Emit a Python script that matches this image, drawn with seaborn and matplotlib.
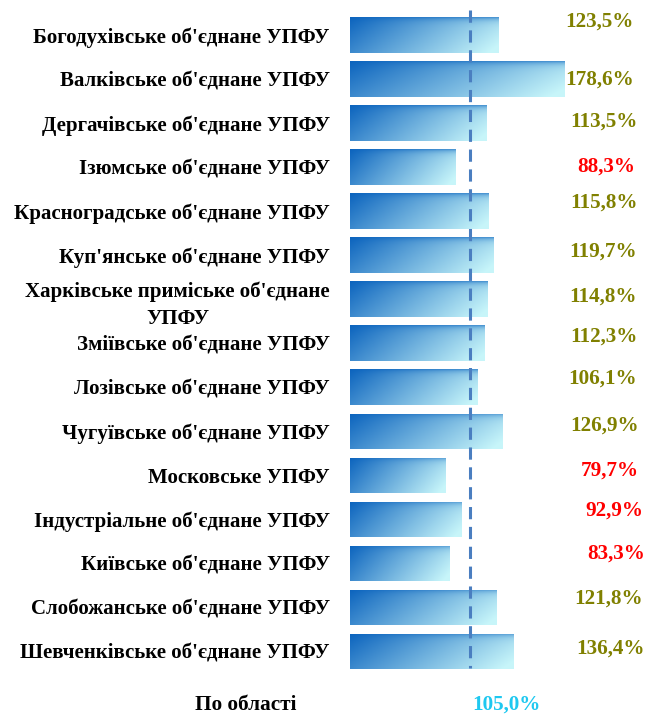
import numpy as np
import pandas as pd
import matplotlib
matplotlib.use("Agg")
import matplotlib.pyplot as plt
import seaborn as sns

categories = [
    "Богодухівське об'єднане УПФУ",
    "Валківське об'єднане УПФУ",
    "Дергачівське об'єднане УПФУ",
    "Ізюмське об'єднане УПФУ",
    "Красноградське об'єднане УПФУ",
    "Куп'янське об'єднане УПФУ",
    "Харківське приміське об'єднане\nУПФУ",
    "Зміївське об'єднане УПФУ",
    "Лозівське об'єднане УПФУ",
    "Чугуївське об'єднане УПФУ",
    "Московське УПФУ",
    "Індустріальне об'єднане УПФУ",
    "Київське об'єднане УПФУ",
    "Слобожанське об'єднане УПФУ",
    "Шевченківське об'єднане УПФУ",
]
values = [123.5, 178.6, 113.5, 88.3, 115.8, 119.7, 114.8, 112.3, 106.1, 126.9,
          79.7, 92.9, 83.3, 121.8, 136.4]
total_label = "По області"
total_value = 105.0
reference_level = 100.0

# label placement (layout only): vertical offset in px, right edge in px
label_dy_px = [-13, 1, -1, 0, -8, -3, -2, -6, -9, -6, -5, -9, -10, -9, -3]
label_right_px = [634, 634, 638, 635, 638, 637, 637, 638, 637, 639, 639, 643, 645, 643, 645]

sns.set_theme(style="white")
plt.rcParams['font.family'] = ['Liberation Serif', 'DejaVu Serif']

df = pd.DataFrame({"cat": categories, "val": values})

PX_PER_UNIT = 1.2
ROW_PX = 44.0

fig = plt.figure(figsize=(6.47, 7.15), dpi=100)
ax = fig.add_axes([350 / 647, 0, 297 / 647, 1])
sns.barplot(data=df, x="val", y="cat", orient="h", ax=ax, width=0.8,
            color="#3a7cc4", saturation=1)

# gradient fill
H, W = 60, 200
xx = np.linspace(0, 1, W)[None, :]
yy = np.linspace(0, 1, H)[:, None]
t = np.clip(0.8 * xx + 0.25 * yy, 0, 1)
dark = np.array([12, 100, 190]) / 255
light = np.array([200, 246, 250]) / 255
img = dark[None, None, :] * (1 - t[..., None]) + light[None, None, :] * t[..., None]
topdark = np.exp(-yy / 0.08)[..., None] * 0.6
img = img * (1 - topdark) + dark[None, None, :] * topdark
for p in ax.patches:
    x0, y0 = p.get_x(), p.get_y()
    w, h = p.get_width(), p.get_height()
    p.set_facecolor("none")
    p.set_edgecolor("none")
    im = ax.imshow(img, extent=[x0, x0 + w, y0 + h, y0], aspect="auto",
                   origin="upper", zorder=2, interpolation="bilinear")
    im.set_clip_path(p)

ax.set_xlim(0, 297 / PX_PER_UNIT)
ax.set_ylim(14 + 1.45, -0.795)

ax.vlines(reference_level, -0.57, 14.39, colors="#4a7ec0", linestyles=(0, (4, 2.5)),
          linewidth=2.2, zorder=3)

for i, v in enumerate(values):
    col = "#808000" if v >= 100 else "#ff0000"
    ax.text((label_right_px[i] - 350) / PX_PER_UNIT, i + label_dy_px[i] / ROW_PX,
            f"{v:.1f}%".replace(".", ","), ha="right", va="center",
            fontsize=15.2, fontweight="bold", color=col)

fig.text(506 / 647, 1 - 705 / 715, f"{total_value:.1f}%".replace(".", ","),
         ha="center", va="center", fontsize=15.2, fontweight="bold", color="#1ec8f0")
fig.text(246 / 647, 1 - 705 / 715, total_label, ha="center", va="center",
         fontsize=15.3, fontweight="bold", color="black")

ax.set_xlabel("")
ax.set_ylabel("")
ax.set_xticks([])
ax.tick_params(axis="y", length=0, pad=14.5)
for lab in ax.get_yticklabels():
    lab.set_fontsize(15)
    lab.set_fontweight("bold")
    lab.set_color("black")
    lab.set_multialignment("center")
    lab.set_linespacing(1.45)
for s in ax.spines.values():
    s.set_visible(False)

fig.savefig("out.png", dpi=100)
